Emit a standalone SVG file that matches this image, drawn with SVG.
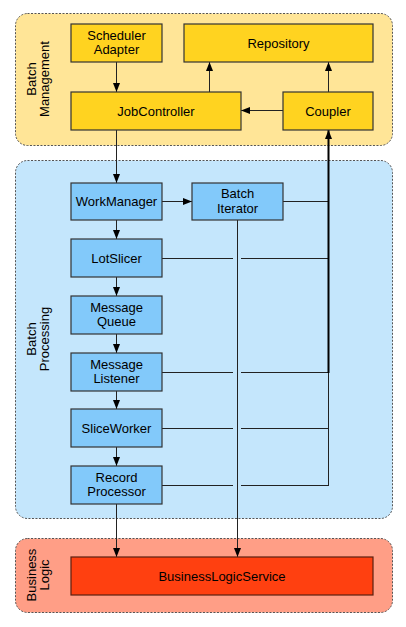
<svg xmlns="http://www.w3.org/2000/svg" width="406" height="627" viewBox="0 0 406 627">
<style>
.grp{stroke:#555;stroke-width:1;stroke-dasharray:2,1.5}
.box{stroke:#333;stroke-width:1.2}
.y{fill:#FFD320}
.b{fill:#82C9FA}
.r{fill:#FF4010;stroke:#5a2010}
text{font-family:"Liberation Sans",Arial,sans-serif;font-size:13px;fill:#000}
.c{text-anchor:middle}
.ln{stroke:#222;stroke-width:1;fill:none}
.arr{marker-end:url(#ah)}
</style>
<defs>
<marker id="ah" viewBox="0 0 9 7" refX="9" refY="3.5" markerWidth="9" markerHeight="7" markerUnits="userSpaceOnUse" orient="auto">
<path d="M0,0 L9,3.5 L0,7 z" fill="#000"/>
</marker>
</defs>
<rect width="406" height="627" fill="#fff"/>

<g id="group-batch-management">
<rect class="grp" x="15.5" y="13.5" width="377" height="132" rx="12" fill="#FFE597"/>
<text class="c" transform="translate(36,79) rotate(-90)"><tspan x="0" y="0">Batch</tspan><tspan x="0" y="13">Management</tspan></text>
</g>
<g id="group-batch-processing">
<rect class="grp" x="15.5" y="160.5" width="377" height="358" rx="12" fill="#C4E6FC"/>
<text class="c" transform="translate(36,339) rotate(-90)"><tspan x="0" y="0">Batch</tspan><tspan x="0" y="13">Processing</tspan></text>
</g>
<g id="group-business-logic">
<rect class="grp" x="15.5" y="538.5" width="377" height="74" rx="12" fill="#FF9E86"/>
<text class="c" transform="translate(36,575) rotate(-90)"><tspan x="0" y="0">Business</tspan><tspan x="0" y="13">Logic</tspan></text>
</g>

<g id="connectors">
<line class="ln arr" x1="116.5" y1="62" x2="116.5" y2="92"/>
<line class="ln arr" x1="209.5" y1="92" x2="209.5" y2="62"/>
<line class="ln arr" x1="328.5" y1="92" x2="328.5" y2="62"/>
<line class="ln arr" x1="283" y1="110.5" x2="241" y2="110.5"/>
<line class="ln arr" x1="116.5" y1="130" x2="116.5" y2="183"/>
<line class="ln arr" x1="162" y1="201.5" x2="192" y2="201.5"/>
<line class="ln arr" x1="116.5" y1="220" x2="116.5" y2="239"/>
<line class="ln arr" x1="116.5" y1="277" x2="116.5" y2="296"/>
<line class="ln arr" x1="116.5" y1="334" x2="116.5" y2="353"/>
<line class="ln arr" x1="116.5" y1="391" x2="116.5" y2="409"/>
<line class="ln arr" x1="116.5" y1="447" x2="116.5" y2="466"/>
<line class="ln arr" x1="116.5" y1="504" x2="116.5" y2="557"/>
<line class="ln arr" x1="237.5" y1="220" x2="237.5" y2="557"/>
<line class="ln" x1="283" y1="201.5" x2="328" y2="201.5"/>
<path class="ln" d="M162,258.5 H233 M241,258.5 H328 M162,372.5 H233 M241,372.5 H328 M162,428.5 H233 M241,428.5 H328 M162,485.5 H233 M241,485.5 H329"/>
<line class="ln" x1="328.5" y1="486" x2="328.5" y2="372"/>
<line class="ln arr" x1="328.5" y1="373" x2="328.5" y2="130" style="stroke-width:2;stroke:#000"/>
</g>

<g id="node-scheduler-adapter">
<rect class="box y" x="71" y="24" width="91" height="38"/>
<text class="c" x="116.5" y="39.5">Scheduler</text>
<text class="c" x="116.5" y="53.5">Adapter</text>
</g>
<g id="node-repository">
<rect class="box y" x="184" y="24" width="189" height="38"/>
<text class="c" x="278.5" y="47.5">Repository</text>
</g>
<g id="node-jobcontroller">
<rect class="box y" x="71" y="92" width="170" height="38"/>
<text class="c" x="156" y="115.5">JobController</text>
</g>
<g id="node-coupler">
<rect class="box y" x="283" y="92" width="90" height="38"/>
<text class="c" x="328" y="115.5">Coupler</text>
</g>
<g id="node-workmanager">
<rect class="box b" x="71" y="183" width="91" height="37"/>
<text class="c" x="116.5" y="206">WorkManager</text>
</g>
<g id="node-batch-iterator">
<rect class="box b" x="192" y="183" width="91" height="37"/>
<text class="c" x="237.5" y="198">Batch</text>
<text class="c" x="237.5" y="212.5">Iterator</text>
</g>
<g id="node-lotslicer">
<rect class="box b" x="71" y="239" width="91" height="38"/>
<text class="c" x="116.5" y="262.5">LotSlicer</text>
</g>
<g id="node-message-queue">
<rect class="box b" x="71" y="296" width="91" height="38"/>
<text class="c" x="116.5" y="311.5">Message</text>
<text class="c" x="116.5" y="325.5">Queue</text>
</g>
<g id="node-message-listener">
<rect class="box b" x="71" y="353" width="91" height="38"/>
<text class="c" x="116.5" y="368.5">Message</text>
<text class="c" x="116.5" y="382.5">Listener</text>
</g>
<g id="node-sliceworker">
<rect class="box b" x="71" y="409" width="91" height="38"/>
<text class="c" x="116.5" y="432.5">SliceWorker</text>
</g>
<g id="node-record-processor">
<rect class="box b" x="71" y="466" width="91" height="38"/>
<text class="c" x="116.5" y="481.5">Record</text>
<text class="c" x="116.5" y="495.5">Processor</text>
</g>
<g id="node-businesslogicservice">
<rect class="box r" x="71" y="557" width="302" height="38"/>
<text class="c" x="222" y="580.5">BusinessLogicService</text>
</g>
</svg>
